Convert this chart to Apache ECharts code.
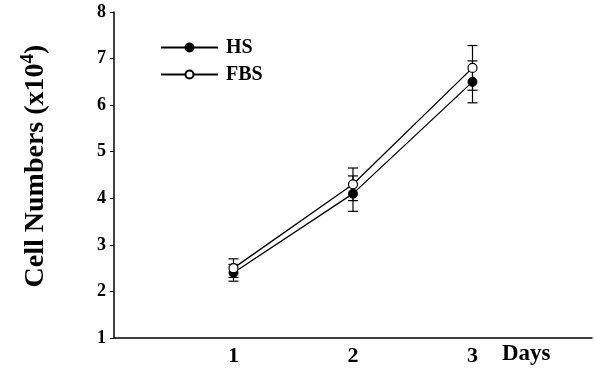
<!DOCTYPE html>
<html>
<head>
<meta charset="utf-8">
<script src="https://cdn.jsdelivr.net/npm/echarts@6/dist/echarts.min.js"></script>
<style>html,body{margin:0;padding:0;background:#fff}#c{width:595px;height:371px}</style>
</head>
<body>
<div id="c"></div>
<script>
var days = [1, 2, 3];
var hsMean = [2.4, 4.1, 6.5];
var hsErr = [0.18, 0.38, 0.45];
var fbsMean = [2.5, 4.3, 6.8];
var fbsErr = [0.2, 0.35, 0.48];
var yTicks = [1, 2, 3, 4, 5, 6, 7, 8];

var FONT = '"Liberation Serif", "Times New Roman", serif';
var chart = echarts.init(document.getElementById('c'));

function errData(m, e) {
  return days.map(function (d, i) { return [d, m[i] - e[i], m[i] + e[i]]; });
}
function errSeries(m, e) {
  return {
    type: 'custom',
    silent: true,
    z: 1,
    data: errData(m, e),
    renderItem: function (params, api) {
      var x = api.value(0);
      var lo = api.coord([x, api.value(1)]);
      var hi = api.coord([x, api.value(2)]);
      var w = 5;
      var st = { stroke: '#000', lineWidth: 1.2 };
      return {
        type: 'group',
        children: [
          { type: 'line', shape: { x1: lo[0], y1: lo[1], x2: hi[0], y2: hi[1] }, style: st },
          { type: 'line', shape: { x1: lo[0] - w, y1: lo[1], x2: lo[0] + w, y2: lo[1] }, style: st },
          { type: 'line', shape: { x1: hi[0] - w, y1: hi[1], x2: hi[0] + w, y2: hi[1] }, style: st }
        ]
      };
    }
  };
}

chart.setOption({
  animation: false,
  backgroundColor: '#fff',
  grid: { left: 114, right: 0, top: 12, bottom: 33 },
  legend: {
    orient: 'vertical',
    left: 160,
    top: 37,
    padding: 0,
    itemWidth: 57,
    itemHeight: 10,
    itemGap: 6,
    data: ['HS', 'FBS'],
    textStyle: { fontFamily: FONT, fontWeight: 'bold', fontSize: 20, lineHeight: 21, color: '#000', padding: [0, 0, 0, 3] }
  },
  xAxis: {
    type: 'value',
    min: 0,
    max: 4,
    interval: 1,
    splitLine: { show: false },
    axisTick: { show: false },
    axisLine: { lineStyle: { color: '#000', width: 1.5 } },
    axisLabel: {
      margin: 7,
      fontFamily: FONT, fontWeight: 'bold', fontSize: 22, color: '#000',
      formatter: function (v) { return days.indexOf(v) >= 0 ? String(v) : ''; }
    }
  },
  yAxis: {
    type: 'value',
    min: yTicks[0],
    max: yTicks[yTicks.length - 1],
    interval: 1,
    splitLine: { show: false },
    axisLine: { show: true, lineStyle: { color: '#000', width: 1.5 } },
    axisTick: { show: true, length: 4, lineStyle: { color: '#000' } },
    axisLabel: { margin: 8, fontFamily: FONT, fontWeight: 'bold', fontSize: 18, color: '#000' },
    name: '{a|Cell Numbers (x10}{s|4}{a|)}',
    nameLocation: 'middle',
    nameGap: 62,
    nameTextStyle: {
      padding: [0, 0, 0, 18],
      rich: {
        a: { fontFamily: FONT, fontWeight: 'bold', fontSize: 28, color: '#000' },
        s: { fontFamily: FONT, fontWeight: 'bold', fontSize: 19, color: '#000', verticalAlign: 'bottom', padding: [0, 0, 14, 0] }
      }
    }
  },
  graphic: [{
    type: 'text', left: 502, top: 343,
    style: { text: 'Days', font: 'bold 23px ' + FONT, fill: '#000' }
  }],
  series: [
    errSeries(hsMean, hsErr),
    errSeries(fbsMean, fbsErr),
    {
      name: 'HS', type: 'line', z: 3,
      data: days.map(function (d, i) { return [d, hsMean[i]]; }),
      symbol: 'circle', symbolSize: 9,
      lineStyle: { color: '#000', width: 1.3 },
      itemStyle: { color: '#000', borderColor: '#000', borderWidth: 1 }
    },
    {
      name: 'FBS', type: 'line', z: 3,
      data: days.map(function (d, i) { return [d, fbsMean[i]]; }),
      symbol: 'circle', symbolSize: 9,
      lineStyle: { color: '#000', width: 1.3 },
      itemStyle: { color: '#fff', borderColor: '#000', borderWidth: 1.2 }
    }
  ]
});
</script>
</body>
</html>
